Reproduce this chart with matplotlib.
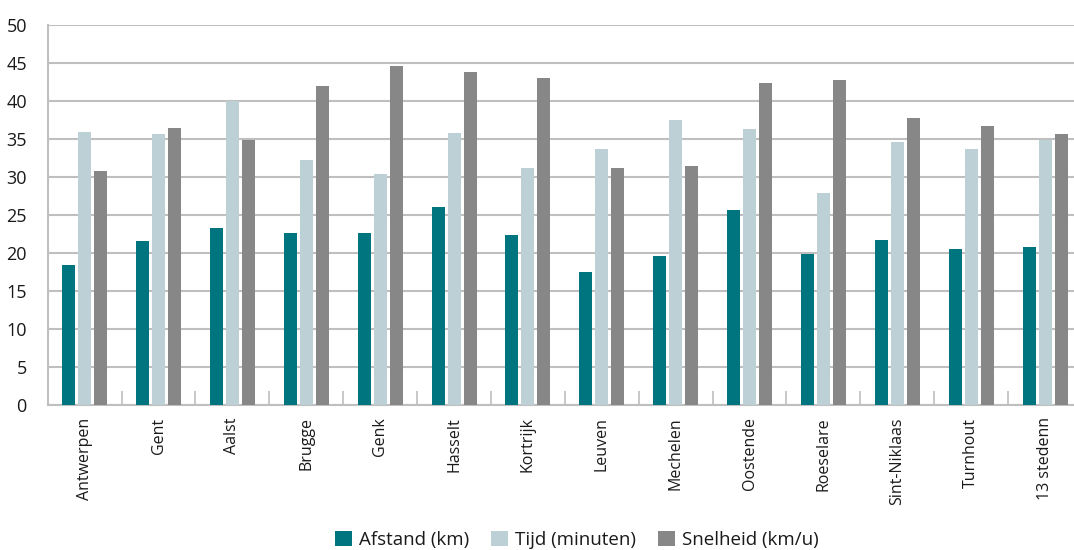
import matplotlib
matplotlib.use("Agg")
import matplotlib.pyplot as plt
import numpy as np

categories = ["Antwerpen", "Gent", "Aalst", "Brugge", "Genk", "Hasselt", "Kortrijk",
              "Leuven", "Mechelen", "Oostende", "Roeselare", "Sint-Niklaas", "Turnhout",
              "13 stedenn"]
afstand = [18.4, 21.6, 23.3, 22.6, 22.6, 26.0, 22.4, 17.5, 19.6, 25.7, 19.9, 21.7, 20.5, 20.8]
tijd = [35.9, 35.7, 40.0, 32.2, 30.4, 35.8, 31.2, 33.7, 37.5, 36.3, 27.9, 34.6, 33.7, 34.9]
snelheid = [30.8, 36.4, 34.9, 42.0, 44.6, 43.8, 43.0, 31.2, 31.4, 42.4, 42.8, 37.8, 36.7, 35.7]
series_names = ["Afstand (km)", "Tijd (minuten)", "Snelheid (km/u)"]
y_ticks = [0, 5, 10, 15, 20, 25, 30, 35, 40, 45, 50]

colors = ["#00747F", "#BDD0D6", "#878787"]

plt.rcParams['font.family'] = ['Open Sans', 'DejaVu Sans']

W, H = 1074, 550
fig = plt.figure(figsize=(W / 100, H / 100), dpi=100)
left_px, right_px, bottom_px, top_px = 47.7, 1082, 405, 25
ax = fig.add_axes([left_px / W, (H - bottom_px) / H, (right_px - left_px) / W, (bottom_px - top_px) / H])

x = np.arange(len(categories))
bw = 13 / 73.95
step = 16 / 73.95
for i, (vals, name) in enumerate(zip([afstand, tijd, snelheid], series_names)):
    ax.bar(x + (i - 1) * step, vals, width=bw, color=colors[i], label=name, zorder=3)

ax.set_xlim(-0.5, len(categories) - 0.5)
ax.set_ylim(0, 50)
ax.set_yticks(y_ticks)
ax.yaxis.grid(True, color="#BFBFBF", linewidth=1.5, zorder=0)
ax.set_axisbelow(True)
ax.tick_params(axis='y', length=0, pad=15, labelsize=13, labelcolor="#1a1a1a")

ax.set_xticks(x)
ax.set_xticklabels(categories, rotation=90, fontsize=11.5, color="#1a1a1a")
ax.tick_params(axis='x', length=0, pad=9)
ax.set_xticks(np.arange(-0.5, len(categories) - 0.4, 1.0), minor=True)
ax.tick_params(axis='x', which='minor', direction='in', length=10, color="#BFBFBF", width=1.2)

for s in ["top", "right"]:
    ax.spines[s].set_visible(False)
for s in ["left", "bottom"]:
    ax.spines[s].set_color("#BFBFBF")
    ax.spines[s].set_linewidth(1.5)

fig.legend(loc="center", bbox_to_anchor=(577 / W, 10 / H), ncol=3, frameon=False,
           fontsize=13.5, handlelength=0.9, handleheight=0.9, handletextpad=0.37,
           columnspacing=1.17, labelcolor="#1a1a1a")

fig.savefig("out.png", dpi=100)
